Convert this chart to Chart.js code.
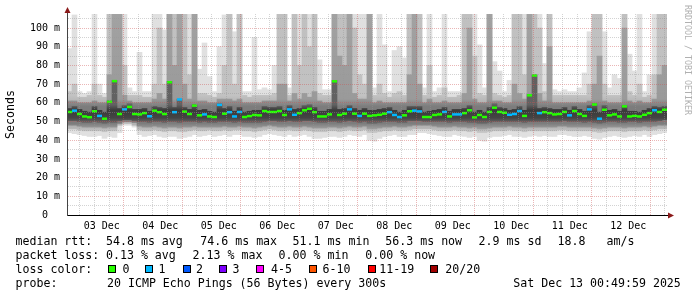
<!DOCTYPE html>
<html><head><meta charset="utf-8">
<script src="https://cdn.jsdelivr.net/npm/chart.js@4/dist/chart.umd.min.js"></script>
<style>
html,body{margin:0;padding:0;background:#fff;}
#wrap{position:relative;width:697px;height:297px;overflow:hidden;background:#fff;}
canvas{position:absolute;left:0;top:0;}
.t{position:absolute;font-family:'DejaVu Sans Mono',monospace;font-size:11.6px;line-height:14px;color:#000;white-space:pre;}
.sq{position:absolute;width:8px;height:8px;box-sizing:border-box;border:1px solid #000;top:265px;}
</style></head><body>
<div id="wrap">
<canvas id="c" width="697" height="297"></canvas>
<div class="t" style="left:15.5px;top:234px">median rtt:</div>
<div class="t" style="left:106px;top:234px">54.8 ms avg</div>
<div class="t" style="left:200.3px;top:234px">74.6 ms max</div>
<div class="t" style="left:292.6px;top:234px">51.1 ms min</div>
<div class="t" style="left:385.3px;top:234px">56.3 ms now</div>
<div class="t" style="left:478.6px;top:234px">2.9 ms sd</div>
<div class="t" style="left:557.6px;top:234px">18.8</div>
<div class="t" style="left:606.6px;top:234px">am/s</div>
<div class="t" style="left:15.5px;top:248px">packet loss:</div>
<div class="t" style="left:106px;top:248px">0.13 % avg</div>
<div class="t" style="left:192.6px;top:248px">2.13 % max</div>
<div class="t" style="left:278.6px;top:248px">0.00 % min</div>
<div class="t" style="left:365.3px;top:248px">0.00 % now</div>
<div class="t" style="left:15.5px;top:262px">loss color:</div>
<div class="sq" style="left:108px;background:#26ff00"></div><div class="t" style="left:122.6px;top:262px">0</div>
<div class="sq" style="left:145px;background:#00b8ff"></div><div class="t" style="left:158.6px;top:262px">1</div>
<div class="sq" style="left:182.5px;background:#0059ff"></div><div class="t" style="left:196px;top:262px">2</div>
<div class="sq" style="left:219px;background:#7e00ff"></div><div class="t" style="left:232.6px;top:262px">3</div>
<div class="sq" style="left:256px;background:#ff00ff"></div><div class="t" style="left:271px;top:262px">4-5</div>
<div class="sq" style="left:309px;background:#ff5500"></div><div class="t" style="left:322.6px;top:262px">6-10</div>
<div class="sq" style="left:368px;background:#ff0000"></div><div class="t" style="left:379.3px;top:262px">11-19</div>
<div class="sq" style="left:430px;background:#a10000"></div><div class="t" style="left:445.3px;top:262px">20/20</div>
<div class="t" style="left:15.5px;top:276px">probe:</div>
<div class="t" style="left:107px;top:276px">20 ICMP Echo Pings (56 Bytes) every 300s</div>
<div class="t" style="left:513.3px;top:276px">Sat Dec 13 00:49:59 2025</div>
</div>
<script>
const dayLabels = ['03 Dec','04 Dec','05 Dec','06 Dec','07 Dec','08 Dec','09 Dec','10 Dec','11 Dec','12 Dec'];
const yTickValues = [0,5,10,15,20,25,30,35,40,45,50,55,60,65,70,75,80,85,90,95,100,105];
const startHour = 0.8331, endHour = 240.8331;
const lossColors = ['#26ff00','#00b8ff','#0059ff','#7e00ff','#ff00ff','#ff5500','#ff0000','#a10000'];

// median rtt (ms) per 2h slot
const med = [
55.1,55.8,54.0,52.7,52.3,55.5,53.0,51.5,60.5,71.6,
54.0,56.5,57.8,54.0,53.8,54.5,52.8,55.8,55.0,54.0,
71.0,55.0,61.8,55.3,54.0,58.5,53.3,53.8,52.7,52.4,
58.9,54.2,55.0,52.7,55.1,52.4,52.9,53.5,53.3,55.6,
55.1,55.1,55.6,53.5,56.5,53.6,54.5,56.0,56.8,55.0,
52.7,52.7,53.8,71.5,53.5,54.2,56.5,54.2,53.0,54.2,
53.0,53.3,53.6,54.2,55.0,53.5,52.4,53.3,55.5,55.8,
55.4,52.4,52.4,53.5,53.8,55.1,52.7,53.8,53.8,54.5,
56.0,52.2,53.5,52.4,55.1,57.4,55.1,54.7,53.6,54.0,
55.6,53.0,64.0,74.6,54.5,55.0,54.5,53.8,54.0,55.1,
53.3,55.6,54.0,53.0,56.5,59.1,51.5,56.3,53.3,53.8,
52.7,58.1,52.7,53.0,52.7,53.6,54.5,56.0,55.1,56.3];
// loss colour class per slot (0 = no loss, 1 = one lost)
const loss = [
0,1,0,0,0,0,1,0,0,0, 0,1,0,0,0,0,1,0,0,0, 0,1,1,0,0,0,0,1,0,0,
1,0,1,1,1,0,0,0,0,0, 0,0,0,0,1,1,0,0,0,0, 0,0,0,0,0,0,1,0,1,0,
0,0,0,0,1,1,1,0,0,1, 1,0,0,0,0,1,0,1,1,0, 0,0,0,0,0,0,0,0,1,1,
1,0,0,0,1,0,0,0,0,0, 1,0,0,0,1,0,1,0,0,0, 0,0,0,0,0,0,0,1,0,0];
// smoke envelope: max ping
const pMax = [
89,107,66,65,66,110,70,65,110,110,
110,110,68,66,87,66,66,110,110,99,
110,110,110,110,110,110,78,92,74,66,
90,107,110,98,110,66,66,95,67,68,
67,80,110,110,68,110,110,110,110,110,
83,67,67,110,110,110,110,110,110,110,
110,68,110,91,66,88,90,84,110,110,
110,68,110,66,68,110,66,66,66,110,
110,110,91,68,110,82,77,66,72,110,
110,110,110,110,110,81,110,67,66,67,
66,66,68,76,98,110,110,98,68,75,
73,110,86,77,110,66,75,110,110,110];
// upper quantile bands
const hi2 = [
66,70,63,63,64,70,64,63,110,110,
110,80,64,64,64,63,63,70,100,70,
110,110,110,110,75,110,65,65,64,63,
65,80,110,70,110,64,63,64,64,64,
64,65,110,110,64,110,80,110,90,110,
65,64,64,110,110,110,110,100,75,70,
110,64,70,65,63,65,66,64,110,110,
110,64,80,63,64,68,63,63,64,110,
110,85,65,64,110,65,64,63,64,110,
110,75,110,110,100,66,110,64,64,64,
64,64,64,64,70,110,110,70,64,64,
64,110,66,64,70,63,64,75,110,110];
const hi3 = [
61,61,60,60,60,61,60,60,75,110,
110,64,61,60,60,60,60,62,65,62,
110,80,110,70,62,110,61,61,60,60,
62,62,62,61,62,60,60,60,60,61,
61,61,70,70,61,65,62,65,63,66,
61,60,60,110,85,80,110,65,62,62,
110,60,61,60,60,60,60,60,75,110,
70,60,62,60,60,61,60,60,60,65,
100,62,60,60,110,61,61,60,60,70,
65,62,110,75,65,61,90,60,60,60,
60,60,60,60,61,70,85,61,60,60,
60,100,61,60,61,60,60,62,75,80];
const hi4 = [
57,58,56.5,55.5,55,58,56,55,61,72,
57,58.5,59.5,56.5,56.5,57,55.5,58,57.5,57,
71.5,57.5,62,57.5,56.5,59,56,56.5,55.5,55,
59.5,57,58,55.5,57.5,55,55.5,56,56,58,
57.5,57.5,58,56,58.5,56.5,57,58.5,59,57.5,
55.5,55.5,56.5,72,56.5,57,58.5,57,56,57,
56,56,56.5,57,57.5,56,55,56,58,58,
58,55,55.5,56,56.5,57.5,55.5,56.5,56.5,57,
58.5,55,56,55,57.5,59.5,57.5,57,56,56.5,
58,56,64.5,75,57,57.5,57,56.5,56.5,57.5,
56,58,56.5,55.5,58.5,59.5,55,58.5,56,56.5,
55.5,58.5,55.5,55.5,55,56,57,58,57.5,58];
// lower quantile bands
const lo4 = [
50.5,50.5,50,49.5,49.5,50,49.5,49,49.5,49.5,
50.5,51,51,50.5,50,50,49.5,50,50,49.5,
50,50,49.5,50,50,50,49.5,50,49.5,49.5,
50,50,50,49.5,50,49.5,49.5,49.5,49.5,50,
50.5,50.5,50,50,50.5,50,50,50.5,50.5,50,
49.5,49.5,50,50,49.5,50,50.5,50,49.5,50,
49,49,49.5,50,50,50,49.5,49.5,50.5,50.5,
50.5,50,50,50,50,50,49.5,50,50,50,
49.5,49.5,49,49,49.5,50,50,50,50,50,
50,49.5,50,50,50,50,50,50,50,50.5,
50,50,50,49.5,50,49.5,49,49.5,50,50,
49.5,49.5,50,50,49.5,50,50,50,50.5,51];
const lo3 = [
48,48,47.5,47,47,47,47,46.5,47,47,
49,50,50,49.5,47.5,47,47,47.5,47,46.5,
47,47,46.5,47,47,47.5,47,47,47,47,
47,47.5,47,47,47.5,47,47,46.5,47,47.5,
48,47.5,47,47,47.5,47,47,47.5,47,46.5,
46.5,46.5,47,47,46.5,47,47.5,47,47,47.5,
46,46,46.5,47,47,47.5,47,47,47.5,48,
48,48,48,47.5,47,47,47,47.5,47,47,
46.5,47,46,46,46.5,47,47,47,47.5,47,
47,46.5,47,47,47,47,47,47,47.5,47.5,
47,47,47,47,47,46.5,46,46.5,47,47,
47,46.5,47,47,47,47.5,47,47.5,48,48];
const lo2 = [
46,46,45.5,45,45,45,45,44.5,45,45,
48,49,49,48,45.5,45,45,45.5,45,44.5,
45,45,44.5,44.5,45,45.5,45,45,45.5,45,
45,45.5,45,45.5,45.5,45,45,44.5,45,45.5,
46,45.5,45,45,45.5,45,45,45.5,45,44.5,
44.5,44.5,45,45,44.5,45,45.5,45,45,45.5,
44,44,44.5,45,45,45.5,45,45,45.5,46,
46,46,46,45.5,45,45,45,45.5,45,45,
44.5,45,44,44,44.5,45,45,45,45.5,45,
45,44.5,45,45,45,45,45,45,45.5,45.5,
45,45,45,45,45,44.5,44,44.5,45,45,
45,44.5,45,45,45,45.5,45,45.5,46,46];
// smoke envelope: min ping
const pMin = [
44,43.5,43,42.5,42,42,42.5,41,42,41.5,
44,48,48,47,43,42,42.5,43,42,41.5,
42,42,41,41.5,42,43,42,42.5,43,42,
42.5,43,42,43,43,42,42,41.5,42,43,
43.5,43,42.5,42,43,42,42.5,43,42,41,
41,41.5,42,42,41.5,42,43,42.5,42,43,
40,39.5,41,42,42.5,43,42,42,43,43,
44,44,43.5,43,42.5,42,42,43,42.5,42,
41.5,42,40,39.5,41.5,42,42,42.5,43,42,
42,41.5,42,42.5,42,42.5,42,42,43,43,
42.5,42,42,42.5,42,41,40.5,41.5,42,42.5,
42,41.5,42,42.5,42,43,42,43,43.5,44];

const gridHours = [];
for (let h = 6; h <= 240; h += 6) gridHours.push(h);
const labels = med.map((_, i) => i);
const band = (lo, hi) => lo.map((v, i) => [v, hi[i]]);

// vertical shading of the smoke, keyed to rtt values
const shade = {
  l2: [[0,'#c9c9c9'],[44,'#c9c9c9'],[47,'#b3b3b3'],[60,'#b3b3b3'],[64,'#c2c2c2'],[107.5,'#c0c0c0']],
  l3: [[0,'#a0a0a0'],[46,'#a0a0a0'],[49,'#7c7c7c'],[58,'#7c7c7c'],[62,'#9a9a9a'],[107.5,'#a2a2a2']],
  l4: [[0,'#6a6a6a'],[49,'#6a6a6a'],[52,'#444444'],[56,'#3a3a3a'],[59,'#626262'],[107.5,'#5e5e5e']]
};
const gradCache = {};
function grad(key, fallback) {
  return (c) => {
    const chart = c.chart;
    if (!chart.chartArea || !chart.scales.y) return fallback;
    const k = key + chart.chartArea.top + '_' + chart.chartArea.bottom;
    if (!gradCache[k]) {
      const y = chart.scales.y;
      const y0 = y.getPixelForValue(0), y1 = y.getPixelForValue(107.5);
      const g = chart.ctx.createLinearGradient(0, y0, 0, y1);
      shade[key].forEach(([v, col]) => g.addColorStop(v / 107.5, col));
      gradCache[k] = g;
    }
    return gradCache[k];
  };
}

const decor = {
  id: 'decor',
  afterDraw(chart) {
    const ctx = chart.ctx, a = chart.chartArea;
    ctx.save();
    ctx.strokeStyle = '#000'; ctx.lineWidth = 1;
    ctx.beginPath(); ctx.moveTo(a.right, a.bottom + 0.5); ctx.lineTo(a.right + 2, a.bottom + 0.5); ctx.stroke();
    ctx.beginPath(); ctx.moveTo(a.left + 0.5, a.top); ctx.lineTo(a.left + 0.5, a.top - 2); ctx.strokeStyle = '#444'; ctx.stroke();
    ctx.fillStyle = '#8b1a1a';
    ctx.beginPath(); ctx.moveTo(a.left + 0.5, a.top - 7); ctx.lineTo(a.left - 2.5, a.top - 1); ctx.lineTo(a.left + 3.5, a.top - 1); ctx.closePath(); ctx.fill();
    ctx.beginPath(); ctx.moveTo(a.right + 7, a.bottom + 0.5); ctx.lineTo(a.right + 1, a.bottom - 2.5); ctx.lineTo(a.right + 1, a.bottom + 3.5); ctx.closePath(); ctx.fill();
    ctx.translate(687, 5); ctx.rotate(Math.PI / 2);
    ctx.font = '8.3px "DejaVu Sans Mono"'; ctx.fillStyle = '#b0b0b0'; ctx.textBaseline = 'middle';
    ctx.fillText('RRDTOOL / TOBI OETIKER', 0, 0);
    ctx.restore();
  }
};

Chart.defaults.font.family = "'DejaVu Sans Mono', monospace";
const barBase = {type: 'bar', xAxisID: 'x', yAxisID: 'y', borderWidth: 0, borderSkipped: false, barPercentage: 1, categoryPercentage: 1, grouped: false, clip: 0};
new Chart(document.getElementById('c'), {
  type: 'bar',
  data: {
    labels,
    datasets: [
      {type: 'line', data: med, xAxisID: 'x', yAxisID: 'y', showLine: false, pointStyle: 'line', pointRadius: 2.5, pointHoverRadius: 2.5, pointBorderWidth: 2.5, pointBorderColor: loss.map(l => lossColors[l]), pointBackgroundColor: loss.map(l => lossColors[l]), order: 0, clip: 0},
      Object.assign({data: band(lo4, hi4), backgroundColor: grad('l4', '#4f4f4f'), order: 1}, barBase),
      Object.assign({data: band(lo3, hi3), backgroundColor: grad('l3', '#8a8a8a'), order: 2}, barBase),
      Object.assign({data: band(lo2, hi2), backgroundColor: grad('l2', '#b8b8b8'), order: 3}, barBase),
      Object.assign({data: band(pMin, pMax), backgroundColor: '#e0e0e0', order: 4}, barBase)
    ]
  },
  options: {
    responsive: false, animation: false, devicePixelRatio: 1,
    layout: {padding: {left: 0, right: 30, top: 14, bottom: 0}},
    plugins: {legend: {display: false}, tooltip: {enabled: false}},
    scales: {
      x: {type: 'category', display: false, offset: true},
      xt: {
        type: 'linear', position: 'bottom', min: startHour, max: endHour,
        afterBuildTicks(s) { s.ticks = gridHours.map(v => ({value: v})); },
        afterFit(s) { s.height = 82; },
        grid: {z: 1, drawTicks: false, color: c => (c.tick && c.tick.value % 24 === 0) ? 'rgba(205,80,80,0.42)' : 'rgba(150,150,150,0.42)'},
        border: {display: true, color: '#000', width: 1, dash: [1, 1], z: 2},
        ticks: {autoSkip: false, maxRotation: 0, padding: 5, color: '#000', font: {size: 10},
          callback: v => (v % 24 === 12) ? dayLabels[(v - 12) / 24] : ''}
      },
      y: {
        min: 0, max: 107.5,
        afterBuildTicks(s) { s.ticks = yTickValues.map(v => ({value: v})); },
        afterFit(s) { s.width = 67; },
        title: {display: true, text: 'Seconds', color: '#000', font: {size: 11.6}, padding: {top: 4, bottom: 4}},
        grid: {z: 1, drawTicks: false, color: c => {
          const v = c.tick ? c.tick.value : 1;
          if (v === 0) return 'rgba(0,0,0,0)';
          return v % 10 === 0 ? 'rgba(205,80,80,0.42)' : 'rgba(150,150,150,0.42)';
        }},
        border: {display: true, color: '#444', width: 1, dash: [1, 1], z: 2},
        ticks: {autoSkip: false, padding: 7, color: '#000', font: {size: 10},
          callback: v => v % 10 !== 0 ? '' : (v === 0 ? '0  ' : v + ' m')}
      }
    }
  },
  plugins: [decor]
});
</script>
</body></html>
